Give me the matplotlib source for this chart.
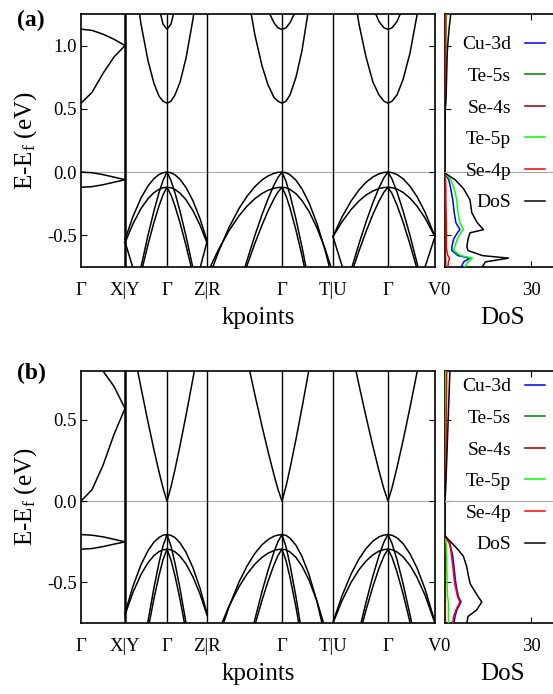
import numpy as np
import matplotlib.pyplot as plt

plt.rcParams['font.family'] = 'Liberation Serif'
plt.rcParams['mathtext.fontset'] = 'custom'
plt.rcParams['mathtext.rm'] = 'Liberation Serif'
plt.rcParams['mathtext.it'] = 'Liberation Serif:italic'
plt.rcParams['axes.unicode_minus'] = False

nan = np.nan

# k-path (path length, arbitrary units)
kticks = [0, 44, 86, 126, 201, 252, 307, 354]
klabels = ['Γ', 'X|Y', 'Γ', 'Z|R', 'Γ', 'T|U', 'Γ', 'V']

k_gx = [0, 11, 22, 33, 44]
k_ygz = [44, 52, 60, 67, 73, 78, 82, 86, 90, 94, 99, 105, 112, 119, 126]
k_rgt = [126, 137, 148, 158, 166, 174, 181, 187, 193, 197, 201, 205, 209, 215, 221, 228, 236, 244, 252]
k_ugv = [252, 261, 270, 278, 285, 292, 298, 303, 307, 311, 316, 322, 329, 336, 344, 354]

# ---- panel (a) bands ----
gx_a = [
    [1.13, 1.12, 1.09, 1.05, 1.00],
    [0.545, 0.63, 0.78, 0.91, 1.00],
    [0.00, -0.005, -0.02, -0.04, -0.06],
    [-0.12, -0.115, -0.10, -0.08, -0.06],
]
ygz_a = [
    [nan, 1.61, 1.17, 0.88, 0.70, 0.60, 0.56, 0.545, 0.56, 0.61, 0.71, 0.90, 1.21, 1.62, nan],
    [nan, nan, nan, nan, nan, 1.30, 1.17, 1.128, 1.17, 1.30, nan, nan, nan, nan, nan],
    [-0.534, -0.350, -0.205, -0.109, -0.051, -0.019, -0.005, 0.0, -0.005, -0.022, -0.057, -0.122, -0.228, -0.368, -0.541],
    [-0.559, -0.408, -0.288, -0.210, -0.162, -0.136, -0.124, -0.12, -0.124, -0.138, -0.166, -0.219, -0.306, -0.419, -0.560],
    [nan, -1.063, -0.75, -0.499, -0.305, -0.162, -0.066, 0.0, -0.067, -0.165, -0.309, -0.506, -0.761, -1.038, nan],
    [nan, nan, -0.801, -0.573, -0.396, -0.267, -0.180, -0.12, -0.181, -0.269, -0.401, -0.580, -0.812, nan, nan],
    [-0.55, -0.76, nan, nan, nan, nan, nan, nan, nan, nan, nan, nan, nan, -0.76, -0.55],
]
rgt_a = [
    [nan, nan, nan, nan, 1.44, 1.08, 0.84, 0.69, 0.59, 0.56, 0.545, 0.56, 0.61, 0.75, 0.96, 1.31, nan, nan, nan],
    [nan, nan, nan, nan, nan, nan, nan, 1.28, 1.18, 1.14, 1.128, 1.14, 1.18, 1.28, nan, nan, nan, nan, nan],
    [-0.878, -0.639, -0.438, -0.288, -0.191, -0.114, -0.062, -0.031, -0.010, -0.002, 0.0, -0.005, -0.021, -0.065, -0.133, -0.242, -0.407, -0.614, -0.864],
    [-0.806, -0.620, -0.463, -0.346, -0.269, -0.209, -0.169, -0.144, -0.128, -0.122, -0.12, -0.124, -0.137, -0.171, -0.225, -0.311, -0.441, -0.604, -0.801],
    [nan, nan, nan, -0.912, -0.698, -0.498, -0.337, -0.212, -0.102, -0.042, 0.0, -0.073, -0.180, -0.372, -0.592, -0.874, nan, nan, nan],
    [nan, nan, nan, -0.928, -0.738, -0.561, -0.419, -0.308, -0.211, -0.157, -0.12, -0.187, -0.284, -0.460, -0.661, -0.919, nan, nan, nan],
]
ugv_a = [
    [nan, nan, 1.57, 1.17, 0.91, 0.71, 0.61, 0.56, 0.545, 0.56, 0.61, 0.73, 0.94, 1.24, 1.67, nan],
    [nan, nan, nan, nan, nan, 1.30, 1.19, 1.14, 1.128, 1.14, 1.19, 1.30, nan, nan, nan, nan],
    [-0.508, -0.355, -0.230, -0.141, -0.081, -0.038, -0.014, -0.003, 0.0, -0.004, -0.019, -0.052, -0.112, -0.194, -0.316, -0.510],
    [-0.510, -0.393, -0.297, -0.228, -0.182, -0.149, -0.130, -0.122, -0.12, -0.123, -0.134, -0.160, -0.206, -0.269, -0.362, -0.511],
    [nan, nan, -0.777, -0.566, -0.395, -0.240, -0.124, -0.043, 0.0, -0.055, -0.157, -0.305, -0.501, -0.718, -0.985, nan],
    [nan, nan, -0.810, -0.623, -0.471, -0.333, -0.230, -0.158, -0.12, -0.169, -0.261, -0.393, -0.570, -0.764, nan, nan],
    [-0.51, -0.74, -0.97, nan, nan, nan, nan, nan, nan, nan, nan, nan, nan, -0.95, -0.75, -0.51],
]

# ---- panel (b) bands ----
gx_b = [
    [0.877, 0.858, 0.80, 0.705, 0.57],
    [0.0, 0.07, 0.22, 0.41, 0.57],
    [-0.206, -0.21, -0.22, -0.235, -0.251],
    [-0.296, -0.292, -0.28, -0.265, -0.251],
]
ygz_b = [
    [nan, 0.949, 0.697, 0.486, 0.314, 0.180, 0.081, 0.0, 0.088, 0.195, 0.341, 0.527, 0.756, 0.995, nan],
    [-0.689, -0.523, -0.391, -0.305, -0.252, -0.224, -0.210, -0.206, -0.211, -0.225, -0.257, -0.315, -0.411, -0.536, -0.691],
    [-0.700, -0.561, -0.451, -0.379, -0.335, -0.311, -0.300, -0.296, -0.300, -0.312, -0.339, -0.387, -0.467, -0.572, -0.701],
    [nan, nan, -1.007, -0.739, -0.531, -0.379, -0.276, -0.206, -0.278, -0.383, -0.538, -0.750, -1.024, nan, nan],
    [nan, nan, nan, -0.790, -0.598, -0.457, -0.361, -0.296, -0.363, -0.460, -0.604, -0.801, nan, nan, nan],
]
rgt_b = [
    [nan, nan, nan, nan, 0.877, 0.651, 0.461, 0.306, 0.161, 0.072, 0.0, 0.090, 0.200, 0.381, 0.574, 0.810, nan, nan, nan],
    [nan, -0.853, -0.650, -0.498, -0.400, -0.321, -0.269, -0.237, -0.216, -0.209, -0.206, -0.211, -0.228, -0.272, -0.341, -0.452, -0.619, -0.829, nan],
    [nan, -0.808, -0.647, -0.527, -0.449, -0.387, -0.346, -0.321, -0.304, -0.298, -0.296, -0.300, -0.313, -0.347, -0.400, -0.486, -0.616, -0.779, nan],
    [nan, nan, nan, nan, -0.933, -0.725, -0.557, -0.427, -0.313, -0.249, -0.206, -0.281, -0.392, -0.590, -0.817, nan, nan, nan, nan],
    [nan, nan, nan, nan, nan, -0.761, -0.611, -0.494, -0.392, -0.335, -0.296, -0.366, -0.469, -0.654, -0.866, nan, nan, nan, nan],
]
ugv_b = [
    [nan, nan, 0.945, 0.714, 0.520, 0.335, 0.186, 0.073, 0.0, 0.081, 0.206, 0.370, 0.575, 0.791, 1.046, nan],
    [-0.744, -0.583, -0.450, -0.356, -0.292, -0.246, -0.220, -0.209, -0.206, -0.210, -0.226, -0.261, -0.324, -0.411, -0.540, -0.745],
    [-0.750, -0.613, -0.501, -0.422, -0.369, -0.330, -0.308, -0.298, -0.296, -0.299, -0.313, -0.342, -0.396, -0.469, -0.578, -0.751],
    [nan, nan, nan, -0.803, -0.623, -0.459, -0.336, -0.251, -0.206, -0.260, -0.360, -0.506, -0.700, -0.913, nan, nan],
    [nan, nan, nan, -0.833, -0.671, -0.524, -0.413, -0.337, -0.296, -0.345, -0.436, -0.569, -0.745, -0.939, nan, nan],
]

# ---- projected DoS ----
dos_labels = ['Cu-3d', 'Te-5s', 'Se-4s', 'Te-5p', 'Se-4p', 'DoS']
dos_colors = ['#0000ff', '#008000', '#8b0000', '#00ff00', '#ff0000', '#000000']

e_a = [1.25, 1.15, 1.05, 0.95, 0.80, 0.65, 0.55, 0.50, 0.30, 0.10, 0.00, -0.01, -0.06, -0.13,
       -0.22, -0.32, -0.40, -0.455, -0.48, -0.53, -0.59, -0.62, -0.66, -0.68, -0.71, -0.75]
cu3d_a = [0.1, 0.1, 0.05, 0.05, 0.05, 0.05, 0.05, 0.0, 0.0, 0.0, 0.0, 0.0, 1.3, 2.0, 2.7, 3.2, 3.8, 5.2, 4.3, 3.0, 2.4, 2.4, 4.5, 8.6, 6.5, 5.6]
te5s_a = [0.5, 0.4, 0.3, 0.25, 0.2, 0.15, 0.1, 0.05, 0.0, 0.0, 0.0, 0.0, 0.05, 0.05, 0.05, 0.05, 0.05, 0.05, 0.05, 0.05, 0.05, 0.05, 0.1, 0.1, 0.1, 0.1]
se4s_a = [0.2, 0.15, 0.1, 0.1, 0.1, 0.05, 0.05, 0.0, 0.0, 0.0, 0.0, 0.0, 0.05, 0.05, 0.05, 0.05, 0.05, 0.05, 0.05, 0.05, 0.1, 0.1, 0.1, 0.2, 0.2, 0.2]
te5p_a = [0.3, 0.25, 0.2, 0.2, 0.15, 0.1, 0.1, 0.05, 0.0, 0.0, 0.0, 0.0, 2.0, 3.2, 4.1, 4.5, 5.2, 6.4, 5.5, 4.3, 3.4, 3.0, 5.5, 9.5, 8.0, 7.0]
se4p_a = [0.2, 0.15, 0.1, 0.1, 0.1, 0.05, 0.05, 0.0, 0.0, 0.0, 0.0, 0.0, 0.2, 0.3, 0.3, 0.4, 0.5, 0.5, 0.5, 0.5, 0.5, 0.6, 1.0, 1.6, 1.2, 1.0]
tot_a = [2.0, 1.5, 1.1, 0.8, 0.6, 0.45, 0.3, 0.1, 0.0, 0.0, 0.0, 0.1, 3.5, 6.4, 8.7, 9.3, 11.2, 13.4, 8.7, 8.0, 7.6, 8.0, 13.0, 22.1, 14.0, 13.0]

e_b = [0.80, 0.60, 0.40, 0.20, 0.05, 0.00, -0.10, -0.21, -0.22, -0.26, -0.30, -0.34, -0.40, -0.465,
       -0.51, -0.55, -0.59, -0.62, -0.67, -0.71, -0.75]
cu3d_b = [0.1, 0.1, 0.1, 0.05, 0.0, 0.0, 0.0, 0.0, 0.1, 1.7, 2.2, 2.7, 3.1, 3.5, 3.8, 4.2, 4.7, 5.6, 4.1, 3.5, 3.1]
te5s_b = [0.1, 0.1, 0.05, 0.05, 0.0, 0.0, 0.0, 0.0, 0.0, 0.05, 0.05, 0.05, 0.05, 0.05, 0.05, 0.05, 0.1, 0.1, 0.1, 0.1, 0.1]
se4s_b = [0.1, 0.1, 0.05, 0.05, 0.0, 0.0, 0.0, 0.0, 0.0, 0.05, 0.05, 0.05, 0.05, 0.05, 0.05, 0.1, 0.1, 0.1, 0.1, 0.1, 0.1]
te5p_b = [0.2, 0.2, 0.15, 0.1, 0.05, 0.0, 0.0, 0.0, 0.0, 0.4, 0.5, 0.6, 0.6, 0.7, 0.7, 0.8, 0.9, 1.2, 1.2, 1.2, 1.2]
se4p_b = [0.6, 0.5, 0.4, 0.3, 0.1, 0.0, 0.0, 0.0, 0.1, 1.5, 2.0, 2.3, 2.7, 3.1, 3.4, 3.9, 4.4, 5.2, 3.8, 3.0, 2.7]
tot_b = [1.7, 1.3, 0.9, 0.5, 0.15, 0.0, 0.0, 0.0, 0.3, 2.5, 4.6, 6.4, 7.5, 8.2, 8.8, 10.2, 11.6, 12.8, 11.0, 8.0, 7.6]

TICK_FS = 13.5
LABEL_FS = 18


def draw_bands(ax, groups, ylim, yticks):
    for k, bands in groups:
        for b in bands:
            ax.plot(k, b, color='black', lw=1.1, zorder=3)
    for i, kt in enumerate(kticks[1:-1]):
        ax.axvline(kt, color='black', lw=1.8 if i == 0 else 1.0, zorder=2)
    ax.axhline(0.0, color='#a8a8a8', lw=0.8, zorder=1)
    ax.set_xlim(kticks[0], kticks[-1])
    ax.set_ylim(*ylim)
    ax.set_xticks(kticks)
    ax.set_xticklabels(klabels)
    ax.set_yticks(yticks)
    ax.set_yticklabels(['%.1f' % t for t in yticks])
    ax.tick_params(axis='x', length=0, pad=11, labelsize=TICK_FS)
    ax.tick_params(axis='y', direction='in', length=4, right=True, pad=3, labelsize=TICK_FS)
    ax.set_xlabel('kpoints', fontsize=LABEL_FS)
    ax.set_ylabel(r'E-E$_\mathrm{f}$ (eV)', fontsize=LABEL_FS)
    ax.xaxis.set_label_coords(0.5, -0.158)
    ax.yaxis.set_label_coords(-0.12, 0.5)
    for s in ax.spines.values():
        s.set_linewidth(1.2)


def draw_dos(ax, e, series, ylim, yticks, anchor):
    for vals, lab, col in zip(series, dos_labels, dos_colors):
        ax.plot(vals, e, color=col, lw=1.1, label=lab, zorder=3)
    ax.axhline(0.0, color='#a8a8a8', lw=0.8, zorder=4)
    ax.set_xlim(0, 40)
    ax.set_ylim(*ylim)
    ax.set_xticks([0, 30])
    ax.set_yticks(yticks)
    ax.set_yticklabels([])
    ax.tick_params(axis='x', direction='in', length=4, top=True, pad=11, labelsize=TICK_FS)
    ax.tick_params(axis='y', direction='in', length=4)
    ax.set_xlabel('DoS', fontsize=LABEL_FS)
    ax.xaxis.set_label_coords(0.5, -0.158)
    ax.legend(loc='upper right', bbox_to_anchor=anchor, markerfirst=False, frameon=False,
              fontsize=14, handlelength=1.05, handletextpad=0.7, labelspacing=0.72,
              borderpad=0, borderaxespad=0)
    for s in ax.spines.values():
        s.set_linewidth(1.2)


fig = plt.figure(figsize=(5.53, 6.94), dpi=100)

ax1 = fig.add_axes([0.1465, 0.6153, 0.6401, 0.3646])
ax2 = fig.add_axes([0.8047, 0.6153, 0.2080, 0.3646])
ax3 = fig.add_axes([0.1465, 0.1023, 0.6401, 0.3631])
ax4 = fig.add_axes([0.8047, 0.1023, 0.2080, 0.3631])

draw_bands(ax1, [(k_gx, gx_a), (k_ygz, ygz_a), (k_rgt, rgt_a), (k_ugv, ugv_a)],
           (-0.75, 1.25), [-0.5, 0.0, 0.5, 1.0])
draw_dos(ax2, e_a, [cu3d_a, te5s_a, se4s_a, te5p_a, se4p_a, tot_a],
         (-0.75, 1.25), [-0.5, 0.0, 0.5, 1.0], (0.87, 0.914))

draw_bands(ax3, [(k_gx, gx_b), (k_ygz, ygz_b), (k_rgt, rgt_b), (k_ugv, ugv_b)],
           (-0.75, 0.8), [-0.5, 0.0, 0.5])
draw_dos(ax4, e_b, [cu3d_b, te5s_b, se4s_b, te5p_b, se4p_b, tot_b],
         (-0.75, 0.8), [-0.5, 0.0, 0.5], (0.87, 0.973))

fig.text(0.030, 0.971, '(a)', fontsize=17, fontweight='bold', va='center')
fig.text(0.030, 0.4625, '(b)', fontsize=17, fontweight='bold', va='center')

fig.savefig('out.png', dpi=100)
